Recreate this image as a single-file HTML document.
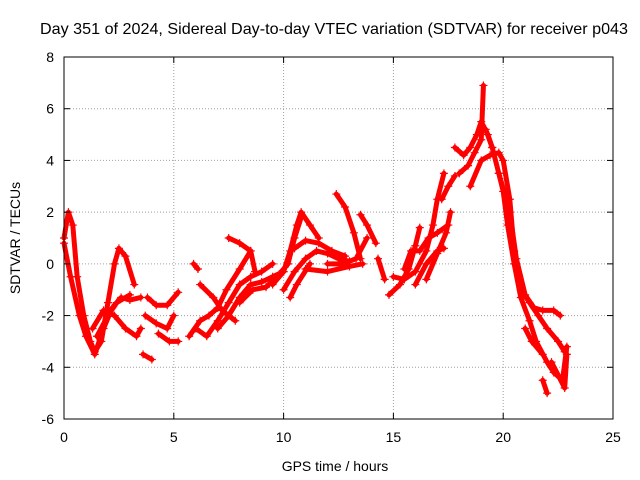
<!DOCTYPE html>
<html><head><meta charset="utf-8"><style>
html,body{margin:0;padding:0;background:#fff;}
svg{display:block;font-family:"Liberation Sans",Arial,sans-serif;}
</style></head><body>
<svg id="chart" width="640" height="480" viewBox="0 0 640 480" xmlns="http://www.w3.org/2000/svg">
<rect width="640" height="480" fill="#fff"/>
<text x="334" y="34" font-size="16" text-anchor="middle" textLength="588" lengthAdjust="spacingAndGlyphs">Day 351 of 2024, Sidereal Day-to-day VTEC variation (SDTVAR) for receiver p043</text>
<g id="grid"></g>
<g id="marks"></g>
<rect x="64" y="57" width="549" height="362" fill="none" stroke="#000" stroke-width="1"/>
<g id="ticks"></g>
<text x="335" y="471" font-size="14" text-anchor="middle">GPS time / hours</text>
<text x="20" y="238" font-size="14" text-anchor="middle" transform="rotate(-90 20 238)">SDTVAR / TECUs</text>
</svg>
<script>
const xTicks=[0,5,10,15,20,25];
const yTicks=[-6,-4,-2,0,2,4,6,8];
const tracks=[
[[0,1],[0.2,2],[0.4,1.5],[0.6,-0.5],[0.9,-2],[1.2,-3],[1.4,-3.4],[1.7,-3],[2,-1.5],[2.3,0],[2.5,0.6],[2.8,0.3],[3.2,-0.8]],
[[0,0.8],[0.3,-0.5],[0.7,-2],[1.0,-2.8],[1.4,-3.5],[1.8,-2.5],[2.2,-1.7],[2.6,-1.3],[3,-1.4],[3.5,-1.3]],
[[1.3,-2.5],[1.8,-1.8],[2.3,-2],[2.8,-2.5],[3.3,-2.8],[3.5,-2.5]],
[[1.5,-2.8],[2,-2],[2.4,-1.5],[3,-1.2]],
[[3.6,-3.5],[4,-3.7]],
[[3.7,-2],[4.2,-2.3],[4.7,-2.5],[5,-2]],
[[3.8,-1.3],[4.2,-1.6],[4.7,-1.6],[5.2,-1.1]],
[[4.3,-2.7],[4.8,-3],[5.2,-3]],
[[5.9,0],[6.1,-0.2]],
[[5.7,-2.8],[6.2,-2.2],[6.6,-2],[7,-1.7],[7.4,-1],[8,-0.2],[8.5,0.5]],
[[6.0,-2.5],[6.5,-2.8],[7,-2.2],[7.5,-1.5],[8,-0.8],[8.5,-0.5],[9,-0.3],[9.5,0]],
[[6.2,-0.8],[6.8,-1.3],[7.2,-1.8],[7.8,-2.2]],
[[7.5,1.0],[8,0.8],[8.5,0.5],[8.7,-0.3]],
[[7.0,-2.5],[7.5,-2],[8,-1.3],[8.5,-0.8],[9,-0.7],[9.5,-0.5],[10,-0.3]],
[[8.0,-1.5],[8.6,-1.0],[9.2,-0.9],[9.8,-0.4],[10.2,0],[10.5,1],[10.8,1.8]],
[[9.5,-0.8],[10.0,-0.3],[10.3,0.5],[10.6,1.5],[10.8,2],[11.2,1.5],[11.6,1.0]],
[[10.0,-1.0],[10.5,-0.3],[11,0.2],[11.5,0.5],[12,0.4],[12.5,0.2],[13,0.1]],
[[10.5,0.6],[11,0.9],[11.6,0.8],[12.2,0.5],[12.8,0.3]],
[[10.3,-1.3],[10.6,-0.8],[11.2,0]],
[[11.0,-0.2],[12,-0.3],[13,-0.1],[13.6,0]],
[[12.4,2.7],[12.8,2.2],[13.2,1.2],[13.5,0.2]],
[[12.0,0],[12.7,0],[13.3,0.2],[13.8,1]],
[[13.5,1.9],[13.8,1.5],[14.2,0.8]],
[[14.3,0.2],[14.6,-0.6]],
[[14.8,-1.2],[15.3,-0.8],[15.7,-0.2],[16.0,0.7],[16.2,1.4]],
[[15.0,-0.5],[15.5,-0.6],[16,-0.3],[16.5,0.5],[16.8,1.5],[17,2.5],[17.3,3.5]],
[[15.5,-0.2],[15.8,0.5],[16.2,0.5],[16.6,1.0],[17.0,1.2],[17.5,1.5]],
[[16.0,-0.8],[16.5,0],[17,0.5],[17.3,0.6]],
[[16.5,-0.6],[17,0.4],[17.4,1.2],[17.6,2.0]],
[[17.2,2.5],[17.5,3],[17.8,3.4]],
[[17.8,4.5],[18.2,4.2],[18.5,4.5],[18.8,5],[19,5.5],[19.3,5],[19.5,4.5]],
[[18,3.5],[18.4,3.8],[18.7,4.3],[19,4.8],[19.1,6.9]],
[[18.5,3.0],[19,4],[19.4,4.2],[19.8,4.3],[20.0,4],[20.3,2.5],[20.5,0.5],[20.8,-1],[21.2,-1.5],[21.6,-2],[22,-2.5],[22.5,-3],[22.8,-3.4]],
[[19.2,5.2],[19.5,4.5],[19.8,3.5],[20,2.8],[20.2,1.5],[20.5,0],[20.8,-1.3],[21.2,-2.2],[21.5,-3.0],[22,-3.8],[22.3,-4.2],[22.7,-4.5],[22.9,-3.2]],
[[19.8,3.5],[20.3,2],[20.6,0.2],[21,-1.2],[21.4,-1.7],[21.8,-1.8],[22.3,-1.8],[22.6,-2.0]],
[[21,-2.5],[21.3,-3.0],[21.8,-3.5]],
[[21.8,-4.5],[22.0,-5]],
[[22.2,-3.8],[22.5,-4.3],[22.8,-4.8],[22.9,-3.5]]
];
const X0=64,X1=613,Y0=419,Y1=57;
function xs(v){return X0+(v-0)/(25-0)*(X1-X0);}
function ys(v){return Y0-(v+6)/(8+6)*(Y0-Y1);}
const NS="http://www.w3.org/2000/svg";
const grid=document.getElementById('grid'),ticks=document.getElementById('ticks'),marks=document.getElementById('marks');
function mk(tag,attrs,parent){const e=document.createElementNS(NS,tag);for(const k in attrs)e.setAttribute(k,attrs[k]);parent.appendChild(e);return e;}
xTicks.forEach(t=>{
  const x=xs(t);
  if(t>0&&t<25){const g=mk('line',{x1:x,x2:x,y1:Y0,y2:Y1,stroke:'#a0a0a0','stroke-dasharray':'1,2'},grid);
  
  }
  mk('line',{x1:x,x2:x,y1:Y0,y2:Y0-6,stroke:'#000'},ticks);
  mk('line',{x1:x,x2:x,y1:Y1,y2:Y1+6,stroke:'#000'},ticks);
  const l=mk('text',{x:x,y:Y0+23,'font-size':'14','text-anchor':'middle'},ticks);
  l.textContent=t;
  
  
});
yTicks.forEach(t=>{
  const y=ys(t);
  if(t>-6&&t<8){const g=mk('line',{x1:X0,x2:X1,y1:y,y2:y,stroke:'#a0a0a0','stroke-dasharray':'1,2'},grid);
  
  }
  mk('line',{x1:X0,x2:X0+6,y1:y,y2:y,stroke:'#000'},ticks);
  mk('line',{x1:X1,x2:X1-6,y1:y,y2:y,stroke:'#000'},ticks);
  const l=mk('text',{x:X0-10,y:y+5,'font-size':'14','text-anchor':'end'},ticks);
  l.textContent=t;
  
  
});
tracks.forEach(tr=>{
  const pts=tr.map(p=>xs(p[0])+','+ys(p[1])).join(' ');
  const pl=mk('polyline',{points:pts,fill:'none',stroke:'#ff0000','stroke-width':'5','stroke-linejoin':'round','stroke-linecap':'round'},marks);
  
  
  tr.forEach(p=>{
    const x=xs(p[0]),y=ys(p[1]);
    const m=mk('path',{d:`M${x-4},${y}H${x+4}M${x},${y-4}V${y+4}`,stroke:'#ff0000','stroke-width':'1.2'},marks);
    
    
  });
});
</script>
</body></html>
